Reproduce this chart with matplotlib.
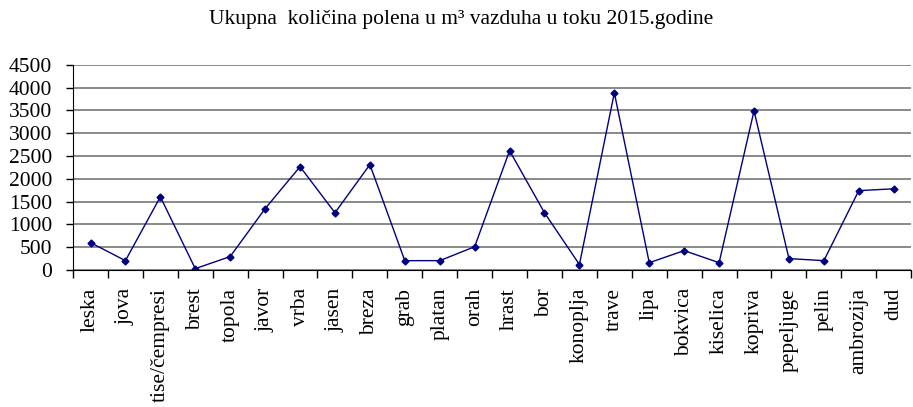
import matplotlib
matplotlib.use('Agg')
import matplotlib.pyplot as plt
import numpy as np

plt.rcParams['font.family'] = ['Liberation Serif', 'DejaVu Serif']

biljke = ['leska', 'jova', 'tise/čempresi', 'brest', 'topola', 'javor', 'vrba',
          'jasen', 'breza', 'grab', 'platan', 'orah', 'hrast', 'bor', 'konoplja',
          'trave', 'lipa', 'bokvica', 'kiselica', 'kopriva', 'pepeljuge', 'pelin',
          'ambrozija', 'dud']
kolicina = [600, 205, 1605, 30, 295, 1345, 2265, 1255, 2310, 205, 205, 510,
            2615, 1255, 120, 3885, 160, 425, 160, 3490, 250, 205, 1740, 1780]
y_ticks = [0, 500, 1000, 1500, 2000, 2500, 3000, 3500, 4000, 4500]

fig = plt.figure(figsize=(9.13, 4.07), dpi=100)
ax = fig.add_axes([0.080, 0.3366, 0.918, 0.5044])

x = np.arange(len(biljke))
ax.plot(x, kolicina, color='#000080', lw=1.0, marker='D', ms=3.5,
        markerfacecolor='#000080', markeredgecolor='#000080')

ax.set_xlim(-0.5, len(biljke) - 0.5)
ax.set_ylim(0, 4500)
ax.set_yticks(y_ticks)
ax.set_yticklabels([str(v) for v in y_ticks], fontsize=15.5)
ax.yaxis.grid(True, color='#808080', lw=1.3)
ax.set_axisbelow(True)

# ticks between categories, labels in the middle
ax.set_xticks(np.arange(len(biljke) + 1) - 0.5)
ax.set_xticklabels([])
ax.set_xticks(x, minor=True)
ax.set_xticklabels(biljke, minor=True, rotation=90, fontsize=15.5)
ax.tick_params(axis='x', which='major', direction='out', length=6, width=1, color='black')
ax.tick_params(axis='x', which='minor', length=0, pad=13)
ax.tick_params(axis='y', direction='out', length=5, width=1, pad=10)

for s in ['top', 'right']:
    ax.spines[s].set_visible(False)
ax.spines['left'].set_color('black')
ax.spines['bottom'].set_color('black')

fig.text(0.505, 0.953, 'Ukupna  količina polena u m³ vazduha u toku 2015.godine',
         ha='center', va='center', fontsize=15.5)

fig.savefig('out.png', dpi=100)
